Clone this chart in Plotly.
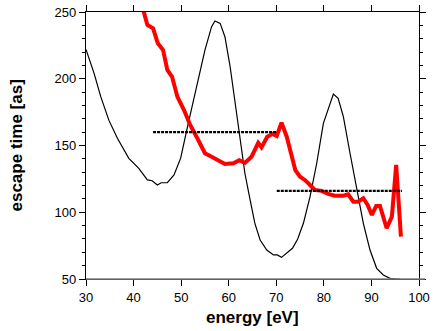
import plotly.graph_objects as go

# thin black curve (spectrum-like)
black_x = [30.0, 31.7, 33.1, 34.8, 36.6, 39.0, 41.1, 42.9, 43.9, 45.0, 45.8, 47.1, 48.5, 49.9,
           51.4, 53.2, 55.0, 56.4, 57.1, 58.2, 59.2, 60.3, 61.3, 62.4, 63.4, 64.5, 65.5, 66.6,
           68.0, 69.4, 70.2, 71.1, 72.2, 73.4, 74.5, 75.7, 77.1, 78.5, 79.9, 81.0, 82.0, 83.0,
           84.1, 85.5, 86.9, 88.3, 89.7, 91.1, 92.5, 93.9, 95.3, 96.0]
black_y = [222.0, 204.0, 186.6, 169.0, 155.4, 140.4, 132.9, 124.2, 123.6, 120.4, 122.1, 122.1,
           127.9, 140.5, 165.0, 193.0, 221.5, 239.0, 243.3, 241.5, 231.5, 209.0, 184.0, 154.0,
           129.2, 109.2, 91.7, 79.2, 71.7, 68.0, 68.0, 66.2, 69.2, 73.0, 80.0, 91.7, 111.7,
           136.7, 166.6, 179.0, 188.6, 185.3, 171.6, 144.2, 116.7, 91.7, 71.7, 58.0, 53.0,
           50.5, 50.0, 50.0]

# thick red curve (escape time)
red_x = [42.0, 42.9, 44.1, 45.1, 46.2, 47.1, 48.1, 49.2, 50.6, 51.9, 53.4, 55.0, 56.4, 57.8,
         59.2, 61.0, 62.2, 63.4, 64.8, 66.2, 66.9, 68.1, 69.2, 70.1, 71.1, 72.2, 73.2, 74.0,
         75.0, 76.0, 77.1, 78.1, 79.5, 80.9, 82.3, 84.1, 85.1, 86.2, 87.2, 88.3, 89.2, 90.1,
         91.0, 91.8, 93.2, 94.3, 95.2, 95.7, 96.2]
red_y = [252.0, 240.3, 237.8, 226.6, 221.5, 206.6, 201.5, 186.6, 176.6, 165.4, 155.4, 144.2,
         141.6, 138.6, 136.1, 136.7, 139.0, 137.0, 141.6, 152.0, 148.6, 156.6, 158.6, 157.1,
         167.1, 156.6, 144.2, 131.6, 126.6, 124.2, 120.4, 116.7, 116.0, 113.7, 112.4, 112.4,
         113.4, 107.9, 107.9, 110.5, 105.5, 98.0, 104.7, 104.7, 88.0, 96.7, 135.4, 109.2, 81.7]

# dotted averages
avg1_x = [44.1, 70.1]
avg1_y = [160.0, 160.0]
avg2_x = [70.1, 96.4]
avg2_y = [116.0, 116.0]

x_ticks = [30, 40, 50, 60, 70, 80, 90, 100]
y_ticks = [50, 100, 150, 200, 250]

FONT = "Liberation Sans, Arial, sans-serif"

fig = go.Figure()
fig.add_trace(go.Scatter(x=black_x, y=black_y, mode="lines",
                         line={"color": "black", "width": 1.2}))
fig.add_trace(go.Scatter(x=red_x, y=red_y, mode="lines",
                         line={"color": "#ff0000", "width": 4}))
for ax, ay in ((avg1_x, avg1_y), (avg2_x, avg2_y)):
    fig.add_trace(go.Scatter(x=ax, y=ay, mode="lines",
                             line={"color": "black", "width": 2.2, "dash": "3px,1px"}))

fig.update_layout(
    width=436,
    height=331,
    margin={"l": 86, "r": 17, "t": 12, "b": 52},
    paper_bgcolor="white",
    plot_bgcolor="white",
    showlegend=False,
    font={"family": FONT, "color": "black", "size": 13},
    xaxis={
        "range": [30, 100],
        "tickvals": x_ticks,
        "showgrid": False,
        "zeroline": False,
        "showline": True,
        "linecolor": "black",
        "linewidth": 1.2,
        "mirror": "ticks",
        "ticks": "outside",
        "ticklen": 6,
        "tickcolor": "black",
        "tickfont": {"size": 13},
        "automargin": False,
    },
    yaxis={
        "range": [50, 250],
        "tickvals": y_ticks,
        "showgrid": False,
        "zeroline": False,
        "showline": True,
        "linecolor": "black",
        "linewidth": 1.2,
        "mirror": "ticks",
        "ticks": "outside",
        "ticklen": 6,
        "tickcolor": "black",
        "tickfont": {"size": 13},
        "minor": {"dtick": 10, "ticks": "outside", "ticklen": 3, "tickcolor": "black"},
        "automargin": False,
    },
    shapes=[
        {"type": "line", "xref": "paper", "yref": "paper", "x0": 0, "x1": 1.018,
         "y0": 0, "y1": 0, "line": {"color": "#808080", "width": 1.6}, "layer": "above"},
    ],
    annotations=[
        {"text": "<b>energy [eV]</b>", "xref": "paper", "yref": "paper", "x": 0.5, "y": 0,
         "yshift": -38, "yanchor": "middle", "showarrow": False, "font": {"size": 17}},
        {"text": "<b>escape time [as]</b>", "xref": "paper", "yref": "paper", "x": 0, "y": 0.5,
         "xshift": -70, "xanchor": "center", "textangle": -90, "showarrow": False,
         "font": {"size": 17}},
    ],
)

# the page's default 8px body margin would shift the figure
fig.write_html(
    "out.html",
    config={"displayModeBar": False},
    post_script="document.body.style.margin = '0';",
)
